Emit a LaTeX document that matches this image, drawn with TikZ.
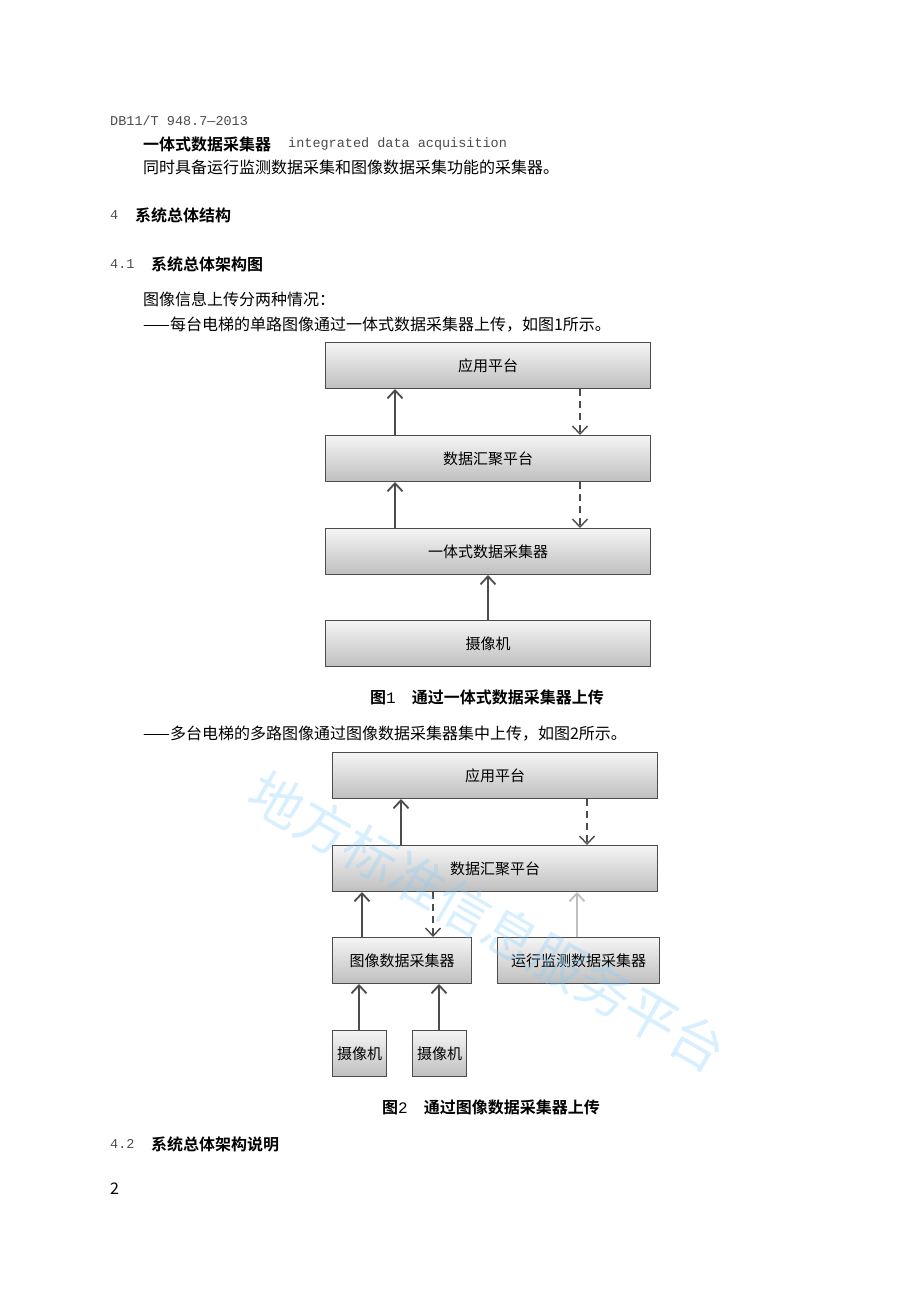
\documentclass[tikz,border=0pt]{standalone}
\usepackage{fontspec}
\setmainfont{Noto Sans CJK SC}
\newfontfamily\cjkb{Noto Sans CJK SC Bold}
\newfontfamily\monof{Liberation Mono}
\usetikzlibrary{arrows.meta}
\begin{document}
\begin{tikzpicture}[x=1pt,y=-1pt,
 box/.style={draw=gray!60!black,line width=1pt,top color=gray!8,bottom color=gray!50,inner sep=0pt,anchor=north west,font=\fontsize{15}{17}\selectfont},
 up/.style={draw=gray!60!black,line width=2.6pt,-{Straight Barb[length=8pt,width=15pt,line width=1.8pt]}},
 dn/.style={draw=gray!60!black,line width=1.4pt,dash pattern=on 7pt off 5pt,-{Straight Barb[length=8pt,width=15pt,line width=1.4pt]}},
 txt/.style={anchor=west,inner sep=0pt,font=\fontsize{16}{18}\selectfont},
 mono/.style={anchor=west,inner sep=0pt,font=\monof\fontsize{13.5}{15}\selectfont,text=gray!60!black},
 bt/.style={anchor=west,inner sep=0pt,font=\cjkb\fontsize{16}{18}\selectfont}]
\useasboundingbox (0,0) rectangle (920,1302);
\fill[white] (0,0) rectangle (920,1302);
% header texts
\node[mono] (h1) at (110,121) {DB11/T 948.7—2013};
\node[bt] (t1) at (143,144) {一体式数据采集器};
\node[mono] (t1e) at (288,144) {integrated data acquisition};
\node[txt] (t2) at (143,167) {同时具备运行监测数据采集和图像数据采集功能的采集器。};
\node[mono] (s4n) at (110,215) {4};
\node[bt] (s4) at (135,215) {系统总体结构};
\node[mono] (s41n) at (110,264) {4.1};
\node[bt] (s41) at (151,264) {系统总体架构图};
\node[txt] (p1) at (143,299) {图像信息上传分两种情况：};
\node[txt] (p2) at (143,325) {——每台电梯的单路图像通过一体式数据采集器上传，如图1所示。};
% figure 1
\node[box,minimum width=325pt,minimum height=46pt] (a1) at (325,342) {应用平台};
\node[box,minimum width=325pt,minimum height=46pt] (d1) at (325,435) {数据汇聚平台};
\node[box,minimum width=325pt,minimum height=46pt] (i1) at (325,528) {一体式数据采集器};
\node[box,minimum width=325pt,minimum height=46pt] (c1) at (325,620) {摄像机};
\draw[up] (d1.north west-|395,0) -- (a1.south west-|395,0);
\draw[up] (i1.north west-|395,0) -- (d1.south west-|395,0);
\draw[up] (c1.north) -- (i1.south);
\draw[dn] (a1.south west-|580,0) -- (d1.north west-|580,0);
\draw[dn] (d1.south west-|580,0) -- (i1.north west-|580,0);
\node[anchor=center,inner sep=0pt,font=\fontsize{16}{18}\selectfont] (cap1) at (487,697) {{\cjkb 图}{\monof 1}\quad{\cjkb 通过一体式数据采集器上传}};
\node[txt] (p3) at (143,734) {——多台电梯的多路图像通过图像数据采集器集中上传，如图2所示。};
% figure 2
\node[box,minimum width=325pt,minimum height=46pt] (a2) at (332,752) {应用平台};
\node[box,minimum width=325pt,minimum height=46pt] (d2) at (332,845) {数据汇聚平台};
\node[box,minimum width=139pt,minimum height=46pt] (g2) at (332,937) {图像数据采集器};
\node[box,minimum width=162pt,minimum height=46pt] (r2) at (497,937) {运行监测数据采集器};
\node[box,minimum width=54pt,minimum height=46pt] (c2a) at (332,1030) {摄像机};
\node[box,minimum width=54pt,minimum height=46pt] (c2b) at (412,1030) {摄像机};
\draw[up] (d2.north west-|401,0) -- (a2.south west-|401,0);
\draw[dn] (a2.south west-|587,0) -- (d2.north west-|587,0);
\draw[up] (g2.north west-|362,0) -- (d2.south west-|362,0);
\draw[dn] (d2.south west-|433,0) -- (g2.north west-|433,0);
\draw[up,draw=gray!50] (r2.north west-|577,0) -- (d2.south west-|577,0);
\draw[up] (c2a.north west-|359,0) -- (g2.south west-|359,0);
\draw[up] (c2b.north west-|439,0) -- (g2.south west-|439,0);
\node[anchor=center,inner sep=0pt,font=\fontsize{16}{18}\selectfont] (cap2) at (491,1107) {{\cjkb 图}{\monof 2}\quad{\cjkb 通过图像数据采集器上传}};
\node[mono] (s42n) at (110,1144) {4.2};
\node[bt] (s42) at (151,1144) {系统总体架构说明};
\node[txt] (pg) at (110,1189) {2};
% watermark
\node[rotate=-30,text=blue!40!cyan!50,font=\fontsize{54}{54}\selectfont,opacity=0.3] (wm) at (488,922) {地方标准信息服务平台};
\end{tikzpicture}
\end{document}
